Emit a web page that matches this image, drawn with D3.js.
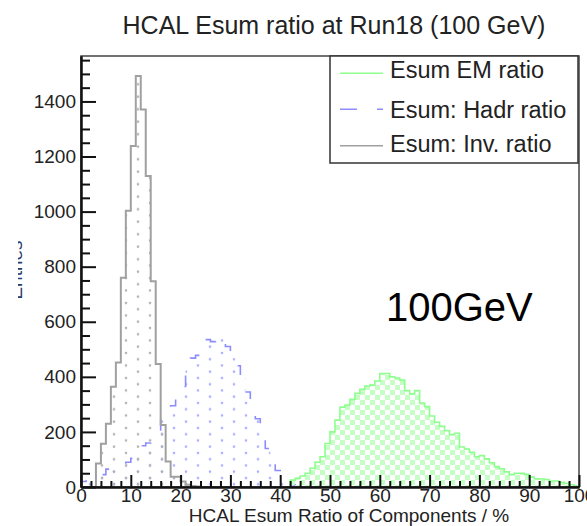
<!DOCTYPE html>
<html>
<head>
<meta charset="utf-8">
<script src="https://cdn.jsdelivr.net/npm/d3@7"></script>
<style>
  html, body { margin: 0; padding: 0; background: #fff; }
  svg { display: block; }
  text { font-family: "Liberation Sans", Arial, sans-serif; }
</style>
</head>
<body>
<svg id="chart" width="587" height="526"></svg>
<script>
// ---------------- data ----------------
const title = "HCAL Esum ratio at Run18 (100 GeV)";
const xTitle = "HCAL Esum Ratio of Components / %";
const yTitle = "Entries";
const annotation = "100GeV";
const seriesNames = ["Esum EM ratio", "Esum: Hadr ratio", "Esum: Inv. ratio"];

// bins of width 1 from 0 to 100
const emCounts = [
  0,0,0,0,0,0,0,0,0,0, 0,0,0,0,0,0,0,0,0,0,
  0,0,0,0,0,0,0,0,0,0, 0,0,0,0,0,0,0,0,0,0,
  0,0,25,32,40,50,68,90,110,158,
  200,243,290,298,318,340,355,367,370,385,
  412,412,400,396,388,350,338,350,305,292,
  258,235,220,204,190,195,145,138,126,110,
  114,102,88,74,66,55,45,50,50,46,
  36,30,29,27,22,22,17,13,8,4
];
const hadrCounts = [
  20,22,22,30,45,65,68,70,72,90,
  104,134,150,160,180,200,255,272,295,322,
  365,435,468,478,495,535,528,532,546,510,
  468,440,395,345,288,248,185,140,88,60,
  22,18,8,3,0,0,0,0,0,0,
  0,0,0,0,0,0,0,0,0,0, 0,0,0,0,0,0,0,0,0,0,
  0,0,0,0,0,0,0,0,0,0, 0,0,0,0,0,0,0,0,0,0,
  0,0,0,0,0,0,0,0,0,0
];
const invCounts = [
  0,0,0,85,157,230,364,452,760,1003,
  1238,1492,1371,1129,747,447,225,93,37,37,
  20,8,4,2,0,0,0,0,0,0,
  0,0,0,0,0,0,0,0,0,0, 0,0,0,0,0,0,0,0,0,0,
  0,0,0,0,0,0,0,0,0,0, 0,0,0,0,0,0,0,0,0,0,
  0,0,0,0,0,0,0,0,0,0, 0,0,0,0,0,0,0,0,0,0,
  0,0,0,0,0,0,0,0,0,0
];
const xTicks = [0,10,20,30,40,50,60,70,80,90,100];
const yTicks = [0,200,400,600,800,1000,1200,1400];

// ---------------- layout ----------------
const svg = d3.select("#chart");
const L = 81, R = 579, T = 56, B = 487;
const x = d3.scaleLinear().domain([0,100]).range([L,R]);
const y = d3.scaleLinear().domain([0,1565]).range([B,T]);

// patterns
const defs = svg.append("defs");
const chk = defs.append("pattern").attr("id","checker").attr("patternUnits","userSpaceOnUse")
  .attr("width",10).attr("height",10);
chk.append("rect").attr("x",0).attr("y",0).attr("width",5).attr("height",5).attr("fill","#c6ffc6");
chk.append("rect").attr("x",5).attr("y",5).attr("width",5).attr("height",5).attr("fill","#c6ffc6");

function dotPattern(id, color){
  const p = defs.append("pattern").attr("id",id).attr("patternUnits","userSpaceOnUse")
    .attr("width",24).attr("height",12.5);
  p.append("circle").attr("cx",6).attr("cy",3).attr("r",1.3).attr("fill",color);
  p.append("circle").attr("cx",18).attr("cy",9.25).attr("r",1.3).attr("fill",color);
}
dotPattern("dotsBlue","#aab0ff");
dotPattern("dotsGray","#b4b4b4");

// histogram helpers
function pts(vals){
  const p = [[0,0]];
  vals.forEach((v,i)=>p.push([i,v]));
  p.push([vals.length, vals[vals.length-1]]);
  p.push([vals.length, 0]);
  return p;
}
const area = d3.area().curve(d3.curveStepAfter).x(d=>x(d[0])).y0(y(0)).y1(d=>y(d[1]));
const line = d3.line().curve(d3.curveStepAfter).x(d=>x(d[0])).y(d=>y(d[1]));

const g = svg.append("g");
function hist(vals, fill, stroke, width, dash){
  g.append("path").attr("d", area(pts(vals))).attr("fill", fill).attr("stroke","none");
  g.append("path").attr("d", line(pts(vals))).attr("fill","none")
    .attr("stroke", stroke).attr("stroke-width", width)
    .attr("stroke-dasharray", dash || null);
}
hist(hadrCounts, "url(#dotsBlue)", "#8c8cff", 1.6, "12,22");
hist(emCounts, "url(#checker)", "#8cff8c", 1.6, null);
hist(invCounts, "url(#dotsGray)", "#a0a0a0", 2, null);

// frame
svg.append("rect").attr("x",L).attr("y",T).attr("width",R-L).attr("height",B-T)
  .attr("fill","none").attr("stroke","#444").attr("stroke-width",1.5);

// y axis
const yAxis = d3.axisLeft(y).tickValues(yTicks).tickFormat(d3.format("d"))
  .tickSizeInner(-15).tickSizeOuter(0).tickPadding(5);
const ya = svg.append("g").attr("transform",`translate(${L},0)`).call(yAxis);
ya.selectAll("text").attr("font-size",19).attr("fill","#222").attr("font-family","Liberation Sans, Arial, sans-serif");
const yMinor = d3.range(0,1565,50).filter(v=>v%200!==0);
const yam = svg.append("g").attr("transform",`translate(${L},0)`)
  .call(d3.axisLeft(y).tickValues(yMinor).tickSizeInner(-9).tickSizeOuter(0).tickFormat(""));
[ya,yam].forEach(a=>{ a.selectAll("line").attr("stroke","#111").attr("stroke-width",2); a.select(".domain").attr("stroke","#111").attr("stroke-width",2); });

// x axis
const xAxis = d3.axisBottom(x).tickValues(xTicks).tickFormat(d3.format("d"))
  .tickSizeInner(-12).tickSizeOuter(0).tickPadding(1);
const xa = svg.append("g").attr("transform",`translate(0,${B})`).call(xAxis);
xa.selectAll("text").attr("font-size",19).attr("fill","#222").attr("font-family","Liberation Sans, Arial, sans-serif");
const xMinor = d3.range(0,101,2).filter(v=>v%10!==0);
const xam = svg.append("g").attr("transform",`translate(0,${B})`)
  .call(d3.axisBottom(x).tickValues(xMinor).tickSizeInner(-6).tickSizeOuter(0).tickFormat(""));
[xa,xam].forEach(a=>{ a.selectAll("line").attr("stroke","#111").attr("stroke-width",2); a.select(".domain").attr("stroke","#111").attr("stroke-width",2); });

// titles
svg.append("text").attr("x",334).attr("y",34).attr("text-anchor","middle")
  .attr("font-size",25).attr("fill","#222").text(title);
svg.append("text").attr("x",349).attr("y",521.5).attr("text-anchor","middle")
  .attr("font-size",19).attr("fill","#222").text(xTitle);

// clipped y title (only a sliver visible in the reference)
defs.append("clipPath").attr("id","yclip").append("rect")
  .attr("x",18).attr("y",200).attr("width",12).attr("height",140);
svg.append("g").attr("clip-path","url(#yclip)")
  .append("text").attr("transform","translate(22,270) rotate(-90)")
  .attr("text-anchor","middle").attr("font-size",19).attr("fill","#2a3a6a").text(yTitle);

// annotation
svg.append("text").attr("x",386).attr("y",321).attr("font-size",40)
  .attr("font-family","'Open Sans', 'Noto Sans', sans-serif").attr("fill","#000").text(annotation);

// legend
const lg = svg.append("g");
lg.append("rect").attr("x",330).attr("y",56).attr("width",248).attr("height",107)
  .attr("fill","#fff").attr("stroke","#333").attr("stroke-width",1.5);
const legendItems = [
  {name: seriesNames[0], color:"#8cff8c", dash:null, ly:73.3, ty:78},
  {name: seriesNames[1], color:"#8c8cff", dash:"17,20", ly:109.3, ty:117.5},
  {name: seriesNames[2], color:"#a0a0a0", dash:null, ly:145.7, ty:152}
];
legendItems.forEach(it=>{
  lg.append("line").attr("x1",340).attr("x2",383).attr("y1",it.ly).attr("y2",it.ly)
    .attr("stroke",it.color).attr("stroke-width",1.6).attr("stroke-dasharray",it.dash);
  lg.append("text").attr("x",390).attr("y",it.ty).attr("font-size",23.5).attr("fill","#222").text(it.name);
});
</script>
</body>
</html>
